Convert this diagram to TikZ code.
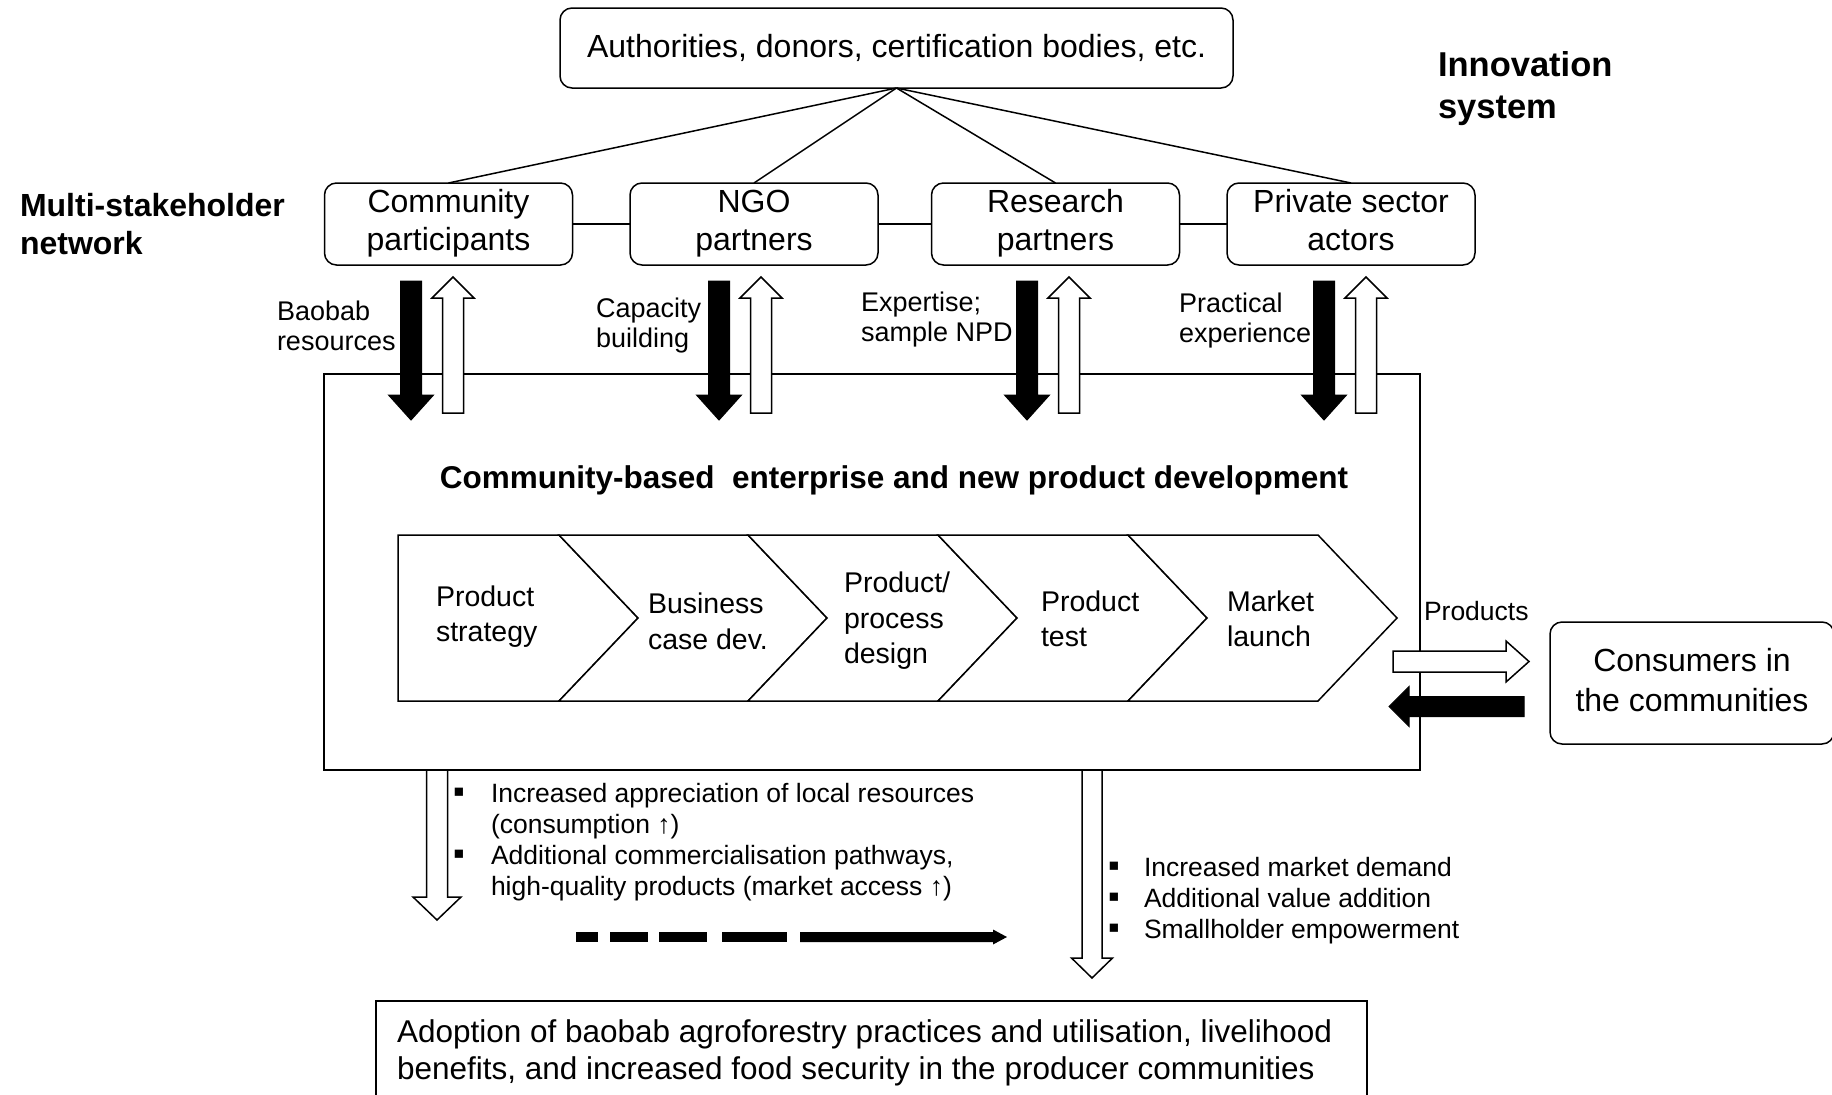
\documentclass[tikz,border=0pt]{standalone}
\usepackage{fontspec}
\setmainfont{Liberation Sans}
\newcommand{\fBox}{\fontsize{32}{38.5}\selectfont}
\newcommand{\fCons}{\fontsize{32}{40}\selectfont}
\newcommand{\fLbl}{\fontsize{27}{30}\selectfont}
\newcommand{\fChev}{\fontsize{28.5}{35.5}\selectfont}
\newcommand{\fBul}{\fontsize{26.5}{31}\selectfont}
\newcommand{\fOut}{\fontsize{31.5}{37}\selectfont}
\newcommand{\fBoldA}{\fontsize{32}{38.5}\selectfont\bfseries}
\newcommand{\fBoldB}{\fontsize{34.5}{42}\selectfont\bfseries}
\newcommand{\fTitle}{\fontsize{31.5}{36}\selectfont\bfseries}
\newcommand{\bulA}{\makebox[37pt][l]{\hspace*{-1pt}{\fontsize{33}{31}\selectfont ▪}}}
\newcommand{\bulB}{\makebox[35pt][l]{\hspace*{-1pt}{\fontsize{33}{31}\selectfont ▪}}}
% vertical block arrow: style, cx, y tail, y head base, y tip, shaft half, head half
\newcommand{\vArrow}[7]{\draw[#1] (#2-#6,#3) -- (#2+#6,#3) -- (#2+#6,#4) -- (#2+#7,#4) -- (#2,#5) -- (#2-#7,#4) -- (#2-#6,#4) -- cycle;}
% horizontal block arrow: style, cy, x tail, x head base, x tip, shaft half, head half
\newcommand{\hArrow}[7]{\draw[#1] (#3,#2-#6) -- (#3,#2+#6) -- (#4,#2+#6) -- (#4,#2+#7) -- (#5,#2) -- (#4,#2-#7) -- (#4,#2-#6) -- cycle;}
\begin{document}
\begin{tikzpicture}[x=1pt,y=-1pt,
  every node/.style={inner sep=0pt, outer sep=0pt},
  sbox/.style={draw, line width=1.5pt, rounded corners=12pt, align=center, font=\fBox, minimum width=248pt, minimum height=82pt},
  conn/.style={line width=1.5pt},
  blk/.style={fill=black, draw=black, line width=1pt},
  wht/.style={fill=white, draw=black, line width=1.5pt},
  lbl/.style={align=left, anchor=west, font=\fLbl},
  chev/.style={draw, line width=1.5pt, fill=white, line join=miter},
  clbl/.style={align=left, anchor=west, font=\fChev},
  bul/.style={align=left, anchor=west, font=\fBul}]
\useasboundingbox (0,0) rectangle (1832,1095);
\fill[white] (0,0) rectangle (1832,1095);

% top level
\node[sbox, minimum width=673pt, minimum height=80pt] (top) at (896.5,48) {Authorities, donors, certification bodies, etc.};
\node[sbox] (c1) at (448.5,224) {Community\strut\\participants\strut};
\node[sbox] (c2) at (754,224) {NGO\strut\\partners\strut};
\node[sbox] (c3) at (1055.5,224) {Research\strut\\partners\strut};
\node[sbox] (c4) at (1351,224) {Private sector\strut\\actors\strut};
\foreach \n in {c1,c2,c3,c4} \draw[conn] (top.south) -- (\n.north);
\draw[conn] (c1) -- (c2) (c2) -- (c3) (c3) -- (c4);

\node[font=\fBoldA, align=left, anchor=west] (msn) at (20,224) {Multi-stakeholder\\network};
\node[font=\fBoldB, align=left, anchor=west] (ins) at (1438,89) {Innovation\\system};

% enterprise box
\node[draw, line width=1.5pt, minimum width=1096pt, minimum height=396pt] (ent) at (872,572) {};
\node[font=\fTitle] (ttl) at (894,480) {Community-based\ \ enterprise and new product development};

% chevrons
\draw[chev] (398,535) -- (559,535) -- (638,618) -- (559,701) -- (398,701) -- cycle;
\draw[chev] (559,535) -- (748,535) -- (827,618) -- (748,701) -- (559,701) -- (638,618) -- cycle;
\draw[chev] (748,535) -- (938,535) -- (1017,618) -- (938,701) -- (748,701) -- (827,618) -- cycle;
\draw[chev] (938,535) -- (1128,535) -- (1207,618) -- (1128,701) -- (938,701) -- (1017,618) -- cycle;
\draw[chev] (1128,535) -- (1318,535) -- (1397,618) -- (1318,701) -- (1128,701) -- (1207,618) -- cycle;
\node[clbl] (ch1) at (436,616.5) {Product\\strategy};
\node[clbl] (ch2) at (648,621.5) {Business\\case dev.};
\node[clbl] (ch3) at (844,621) {Product/\\process\\design};
\node[clbl] (ch4) at (1041,619) {Product\\test};
\node[clbl] (ch5) at (1227,619) {Market\\launch};

% arrows between stakeholders and enterprise
\foreach \cx in {411,719,1027,1324} {\vArrow{blk}{\cx}{281}{395}{420}{10.5}{22.5}}
\foreach \cx in {453,761,1069,1366} {\vArrow{wht}{\cx}{413}{298}{277}{10.5}{21}}
\node[lbl] (l1) at (277,326) {Baobab\\resources};
\node[lbl] (l2) at (596,326) {Capacity\\building};
\node[lbl] (l3) at (861,320) {Expertise;\\sample NPD};
\node[lbl] (l4) at (1179,321) {Practical\\experience};

% consumers
\node[sbox, font=\fCons, minimum width=284pt, minimum height=122pt] (cons) at (1692,683) {Consumers in\strut\\the communities\strut};
\node[font=\fBul, anchor=west] (prd) at (1424,611) {Products};
\hArrow{wht}{661.5}{1393}{1506}{1529}{10.5}{20.5}
\hArrow{blk}{706.5}{1524}{1409}{1389}{10}{20}

% outputs
\vArrow{wht}{437}{770}{897}{920}{10.5}{24}
\vArrow{wht}{1092}{770}{958}{978}{10}{20.5}
\node[bul] (t1) at (454,842.5) {\bulA Increased appreciation of local resources\\\hspace*{37pt}(consumption ↑)\\\bulA Additional commercialisation pathways,\\\hspace*{37pt}high-quality products (market access ↑)};
\node[bul] (t2) at (1109,900.5) {\bulB Increased market demand\\\bulB Additional value addition\\\bulB Smallholder empowerment};

% dashed-to-solid arrow
\fill (575.5,932) rectangle (597.5,942);
\fill (610,932) rectangle (648,942);
\fill (659,932) rectangle (706.5,942);
\fill (721.5,932) rectangle (786.5,942);
\fill (800,932) -- (993,932) -- (993,929.5) -- (1007,937) -- (993,944.5) -- (993,942) -- (800,942) -- cycle;

% outcome box
\node[draw, line width=1.5pt, anchor=north west, minimum width=991pt, minimum height=120pt] (out) at (376,1001) {};
\node[font=\fOut, align=left, anchor=west] (outt) at (397,1052.5) {Adoption of baobab agroforestry practices and utilisation, livelihood\\benefits, and increased food security in the producer communities};
\end{tikzpicture}
\end{document}
